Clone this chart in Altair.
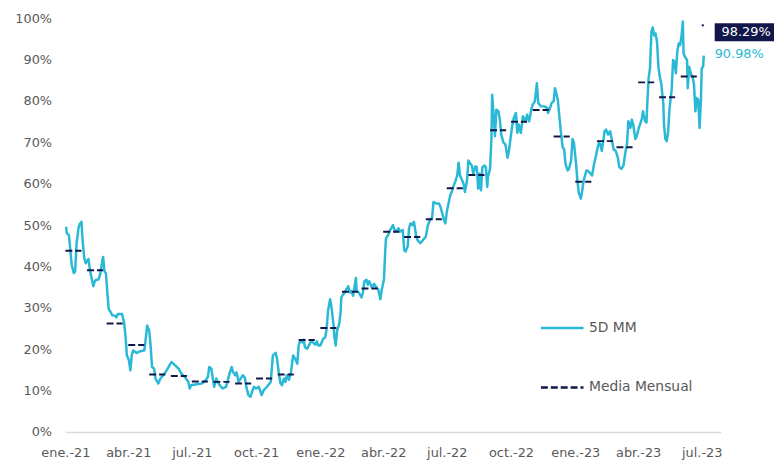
import altair as alt
import pandas as pd

START = "2021-01-01"
X_END = "2023-07-28"

# 5D MM series: days since 2021-01-01 and value in %
line_days = [1, 2, 5, 7, 9, 12, 14, 16, 19, 21, 23, 24, 25, 27, 29, 32, 33, 35, 37, 40,
             42, 44, 47, 49, 51, 53, 54, 56, 58, 60, 62, 65, 67, 71, 73, 75, 81, 84, 86, 88,
             91, 93, 95, 97, 102, 107, 113, 115, 117, 120, 122, 124, 127, 129, 133, 136, 142, 145, 149, 152,
             157, 162, 166, 171, 176, 178, 180, 187, 195, 199, 204, 206, 209, 211, 213, 216, 218, 221, 225, 230,
             232, 235, 238, 240, 243, 245, 248, 251, 254, 257, 259, 262, 265, 268, 270, 273, 277, 281, 284, 289,
             294, 297, 301, 303, 306, 308, 310, 313, 315, 317, 320, 323, 326, 329, 332, 334, 336, 339, 341, 343,
             346, 350, 352, 354, 358, 360, 362, 365, 367, 369, 372, 374, 376, 379, 381, 384, 385, 387, 389, 392,
             394, 395, 398, 400, 402, 405, 407, 409, 412, 414, 416, 417, 420, 424, 426, 428, 431, 433, 435, 439,
             442, 445, 448, 451, 453, 456, 458, 459, 462, 465, 469, 472, 475, 477, 479, 483, 485, 487, 490, 492,
             494, 497, 499, 502, 504, 508, 510, 512, 516, 519, 522, 525, 527, 531, 535, 537, 539, 542, 544, 546,
             549, 551, 553, 556, 558, 561, 563, 565, 568, 570, 572, 575, 577, 580, 582, 584, 587, 589, 591, 593,
             595, 597, 600, 602, 604, 605, 608, 610, 611, 613, 615, 617, 620, 622, 624, 627, 630, 633, 635, 638,
             640, 642, 645, 647, 649, 652, 655, 659, 661, 664, 667, 669, 672, 674, 675, 677, 681, 686, 690, 691,
             694, 696, 699, 701, 705, 707, 709, 712, 714, 716, 719, 721, 724, 726, 728, 731, 733, 735, 738, 740,
             742, 746, 749, 754, 757, 759, 761, 764, 766, 768, 772, 774, 777, 780, 783, 785, 788, 791, 793, 796,
             799, 802, 804, 806, 809, 811, 813, 816, 818, 821, 825, 827, 830, 832, 833, 835, 837, 839, 841, 843,
             845, 847, 849, 851, 853, 856, 857, 859, 861, 863, 865, 868, 870, 872, 874, 876, 878, 880, 882, 884,
             885, 887, 890, 891, 893, 896, 898, 900, 902, 904, 906, 908, 910, 911, 913, 914]
line_vals = [49.6, 48.0, 47.6, 44.0, 40.4, 38.4, 38.8, 45.6, 49.6, 50.4, 50.8, 48.0, 45.6, 42.0, 40.8, 41.6, 41.8, 39.2, 37.6, 35.2,
             36.4, 36.8, 36.8, 37.6, 39.2, 41.6, 42.3, 38.8, 38.4, 33.7, 29.7, 28.9, 28.2, 28.1, 27.7, 28.5, 28.5, 26.5, 23.3, 18.5,
             17.3, 14.9, 18.5, 19.7, 19.1, 19.5, 19.7, 22.5, 25.7, 24.5, 20.9, 15.7, 15.3, 12.9, 11.7, 12.9, 14.1, 14.9, 16.1, 16.9,
             16.1, 15.3, 14.1, 13.3, 12.1, 10.5, 11.3, 11.5, 11.7, 12.1, 13.3, 15.7, 15.3, 12.9, 10.9, 12.9, 12.1, 11.3, 10.5, 10.9,
             12.1, 14.1, 15.7, 14.5, 13.7, 14.4, 12.1, 12.9, 13.7, 13.1, 10.9, 8.9, 8.5, 10.1, 10.9, 10.5, 10.9, 8.9, 10.1, 11.0,
             12.1, 18.5, 19.1, 17.7, 13.7, 11.7, 11.3, 12.9, 12.1, 13.7, 12.6, 14.5, 18.5, 17.7, 16.5, 20.9, 22.1, 21.7, 22.3, 20.5,
             20.1, 21.3, 22.1, 21.7, 21.1, 21.9, 20.9, 20.9, 21.7, 22.5, 22.9, 24.9, 29.3, 32.1, 30.1, 25.7, 23.3, 20.9, 24.5, 26.1,
             28.9, 32.5, 33.3, 33.7, 34.4, 35.2, 33.7, 34.1, 32.9, 35.2, 37.2, 34.1, 33.7, 32.5, 33.7, 36.4, 36.8, 35.6, 36.4, 34.9,
             35.8, 35.0, 34.4, 32.1, 34.4, 36.8, 44.0, 46.8, 47.6, 48.8, 50.0, 48.4, 48.8, 49.2, 48.4, 48.8, 44.0, 43.6, 44.8, 49.2,
             50.4, 50.0, 50.8, 47.6, 46.4, 45.6, 46.0, 46.4, 47.2, 50.0, 51.2, 51.8, 55.6, 55.2, 55.2, 54.4, 53.2, 51.2, 50.4, 53.2,
             55.6, 57.2, 58.0, 59.6, 60.4, 62.0, 65.1, 62.0, 60.8, 60.0, 58.0, 60.8, 65.6, 64.8, 64.4, 62.4, 64.2, 64.0, 58.8, 62.4,
             58.4, 64.0, 64.4, 64.0, 59.2, 61.6, 63.6, 71.1, 81.5, 76.7, 71.5, 77.9, 77.5, 75.5, 71.9, 70.0, 69.5, 66.3, 67.9, 71.9,
             74.3, 75.9, 77.1, 72.3, 74.3, 72.3, 76.3, 75.1, 76.7, 75.1, 77.9, 79.1, 79.9, 82.7, 84.3, 79.5, 78.7, 78.7, 78.3, 77.1,
             78.3, 79.5, 79.9, 83.1, 80.3, 76.7, 73.1, 68.8, 68.3, 64.8, 63.2, 63.6, 65.6, 70.8, 70.0, 65.1, 60.8, 57.8, 56.4, 58.4,
             60.8, 63.2, 63.0, 62.0, 64.8, 66.3, 67.9, 70.0, 69.5, 67.9, 72.7, 73.1, 71.9, 72.7, 70.0, 68.3, 67.9, 66.3, 64.0, 63.6,
             64.4, 67.9, 69.5, 75.1, 73.5, 75.5, 74.3, 70.8, 71.5, 73.5, 75.5, 77.5, 75.1, 74.8, 79.1, 85.5, 87.9, 96.7, 97.8, 95.8,
             96.3, 94.3, 88.3, 85.9, 84.3, 79.5, 74.3, 70.8, 70.3, 72.7, 78.3, 82.7, 89.9, 89.5, 86.7, 91.9, 93.9, 93.5, 95.5, 99.2,
             91.5, 90.7, 89.9, 83.1, 88.3, 86.3, 85.9, 83.9, 77.5, 80.7, 80.3, 73.5, 80.7, 87.9, 88.3, 90.98]

# Monthly mean ("Media Mensual")
months = ["2021-01", "2021-02", "2021-03", "2021-04", "2021-05", "2021-06", "2021-07", "2021-08",
          "2021-09", "2021-10", "2021-11", "2021-12", "2022-01", "2022-02", "2022-03", "2022-04",
          "2022-05", "2022-06", "2022-07", "2022-08", "2022-09", "2022-10", "2022-11", "2022-12",
          "2023-01", "2023-02", "2023-03", "2023-04", "2023-05", "2023-06", "2023-07"]
month_means = [43.8, 39.1, 26.2, 21.0, 13.9, 13.5, 12.2, 12.1, 11.7, 12.9, 13.9, 22.2,
               25.1, 33.9, 34.7, 48.4, 47.1, 51.4, 58.9, 62.1, 72.9, 75.0, 77.8, 71.4,
               60.5, 70.3, 68.8, 84.5, 80.9, 85.9, 98.29]

series = ["5D MM", "Media Mensual"]
series_colors = ["#29B8D6", "#12174A"]
tick_months = ["2021-01", "2021-04", "2021-07", "2021-10", "2022-01", "2022-04",
               "2022-07", "2022-10", "2023-01", "2023-04", "2023-07"]
month_names = ["ene.", "feb.", "mar.", "abr.", "may.", "jun.",
               "jul.", "ago.", "sep.", "oct.", "nov.", "dic."]
y_ticks = [0, 10, 20, 30, 40, 50, 60, 70, 80, 90, 100]

FONT = "DejaVu Sans"
GREY = "#595959"

base = pd.Timestamp(START)
line_dates = [base + pd.Timedelta(days=d) for d in line_days]
last_date = line_dates[-1]
line_df = pd.DataFrame({
    "fecha": [d.strftime("%Y-%m-%d") for d in line_dates],
    "valor": line_vals,
    "serie": series[0],
})

starts = [pd.Timestamp(m + "-01") for m in months]
ends = [min(s + pd.Timedelta(days=23), last_date) for s in starts]
mean_df = pd.DataFrame({
    "inicio": [s.strftime("%Y-%m-%d") for s in starts],
    "fin": [e.strftime("%Y-%m-%d") for e in ends],
    "valor": month_means,
    "serie": series[1],
})

last_str = last_date.strftime("%Y-%m-%d")
box_df = pd.DataFrame({"fecha": [last_str], "valor": [month_means[-1]],
                       "texto": [f"{month_means[-1]:.2f}%"]})
val_df = pd.DataFrame({"fecha": [last_str], "valor": [line_vals[-1]],
                       "texto": [f"{line_vals[-1]:.2f}%"]})

def dt(s):
    return alt.DateTime(year=int(s[:4]), month=int(s[5:7]), date=int(s[8:10]) if len(s) > 7 else 1, utc=True)

x_scale = alt.Scale(type="utc", domain=[dt(START), dt(X_END)])
y_scale = alt.Scale(domain=[0, 100])

names_js = "[" + ",".join(f"'{n}'" for n in month_names) + "]"
x_axis = alt.Axis(
    values=[dt(t) for t in tick_months],
    labelExpr=names_js + "[utcmonth(datum.value)] + '-' + utcFormat(datum.value, '%y')",
    title=None, grid=False, ticks=False, domain=True, domainColor="#D9D9D9", domainWidth=1.5,
    labelFont=FONT, labelFontSize=13, labelColor=GREY, labelPadding=15, labelOverlap=False,
    labelFlush=False,
)
y_axis = alt.Axis(
    values=y_ticks, labelExpr="datum.value + '%'", title=None, grid=False, ticks=False,
    domain=False, labelFont=FONT, labelFontSize=13, labelColor=GREY, labelPadding=14,
)

legend = alt.Legend(
    title=None, orient="none", legendX=479, legendY=290, symbolType="stroke",
    symbolSize=1849, symbolStrokeWidth=2.5, labelFont=FONT, labelFontSize=14,
    labelColor=GREY, labelOffset=4, rowPadding=30, padding=0, direction="vertical",
)
color = alt.Color("serie:N", scale=alt.Scale(domain=series, range=series_colors), legend=legend)
dash = alt.StrokeDash("serie:N", scale=alt.Scale(domain=series, range=[[1, 0], [7, 3]]), legend=legend)

line = alt.Chart(line_df).mark_line(strokeWidth=2.5, strokeJoin="round").encode(
    x=alt.X("fecha:T", scale=x_scale, axis=x_axis),
    y=alt.Y("valor:Q", scale=y_scale, axis=y_axis),
    color=color, strokeDash=dash,
)

means = alt.Chart(mean_df).mark_rule(strokeWidth=2).encode(
    x=alt.X("inicio:T", scale=x_scale), x2="fin:T",
    y=alt.Y("valor:Q", scale=y_scale),
    color=color, strokeDash=dash,
)

box = alt.Chart(box_df).mark_rect(color="#12174A", xOffset=11, x2Offset=90, yOffset=-2, y2Offset=16).encode(
    x=alt.X("fecha:T", scale=x_scale), x2="fecha:T",
    y=alt.Y("valor:Q", scale=y_scale), y2="valor:Q",
)
box_text = alt.Chart(box_df).mark_text(align="left", baseline="middle", dx=18, dy=7,
                                       font=FONT, fontSize=13, color="#FFFFFF").encode(
    x=alt.X("fecha:T", scale=x_scale), y=alt.Y("valor:Q", scale=y_scale), text="texto:N",
)
val_text = alt.Chart(val_df).mark_text(align="left", baseline="middle", dx=11, dy=-2,
                                       font=FONT, fontSize=13, color="#29B8D6").encode(
    x=alt.X("fecha:T", scale=x_scale), y=alt.Y("valor:Q", scale=y_scale), text="texto:N",
)

chart = alt.layer(line, means, box, box_text, val_text).properties(
    width=662, height=418,
    autosize=alt.AutoSizeParams(type="none"),
    padding={"left": 58, "top": 8, "right": 54, "bottom": 26},
).configure_view(stroke=None)

chart.save("out.html", embed_options={"renderer": "svg", "actions": False})
